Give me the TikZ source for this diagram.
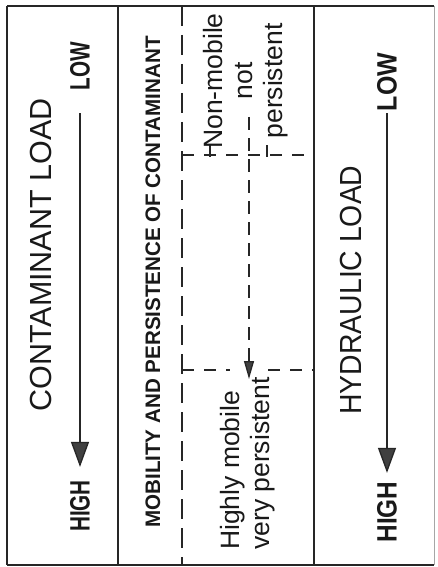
\documentclass[tikz,border=0pt]{standalone}
\usepackage{fontspec}
\setmainfont{Liberation Sans}
\usetikzlibrary{arrows.meta}
\begin{document}
\begin{tikzpicture}[x=1pt,y=-1pt,
  ink/.style={draw=black!85},
  frame/.style={ink, line width=2pt},
  divider/.style={ink, line width=1.4pt},
  dashdiv/.style={ink, line width=1.4pt, dash pattern=on 20pt off 9pt},
  dashrow/.style={ink, line width=1.3pt, dash pattern=on 12pt off 10pt},
  label/.style={rotate=90, inner sep=0pt, text=black!90},
  bigtitle/.style={label, font=\fontsize{30.5}{36}\selectfont},
  endlabel/.style={label, font=\bfseries\fontsize{28}{32}\selectfont},
  header/.style={label, font=\bfseries\fontsize{21}{25}\selectfont},
  body/.style={label, font=\fontsize{26.5}{30}\selectfont},
  loadarrow/.style={ink, line width=1.3pt,
    -{Triangle[length=25pt,width=18pt,fill=black!75]}},
  trendarrow/.style={ink, line width=1.3pt, dash pattern=on 13pt off 8pt,
    -{Triangle[length=18pt,width=10pt,fill=black!75]}},
]
\useasboundingbox (0,0) rectangle (437,567);
\fill[white] (0,0) rectangle (437,567);

% outer frame
\draw[frame] (7,6) -- (434,6);
\draw[frame] (7,565) -- (434,565);
\draw[frame] (7,6) -- (7,565);
\draw[draw=black!35, line width=0.6pt] (434,6) -- (434,565);

% column dividers
\draw[divider] (118,6) -- (118,565);
\draw[divider] (314,6) -- (314,565);
\draw[dashdiv] (182,6) -- (182,565);

% dashed rows bounding the two end labels
\draw[dashrow] (182,155) -- (314,155);
\draw[ink, line width=1.3pt] (210,145) -- (210,157);
\draw[ink, line width=1.3pt] (267,145) -- (267,157);
\draw[dashrow] (182,370) -- (230,370);
\draw[dashrow] (268,370) -- (314,370);

% contaminant load column
\node[bigtitle] (cload) at (41,255) {CONTAMINANT LOAD};
\node[endlabel] (lowC) at (80,66) {\scalebox{0.74}[1]{LOW}};
\node[endlabel] (highC) at (80,506) {\scalebox{0.74}[1]{HIGH}};
\draw[loadarrow, shorten <=23pt, shorten >=13pt] (lowC.west) -- (highC.east);

% mobility and persistence column
\node[header] (mob) at (153,282) {\scalebox{0.98}[1]{MOBILITY AND PERSISTENCE OF CONTAMINANT}};
\node[body, align=center] (nonmob) at (246,81) {Non-mobile\\not\\persistent};
\node[body, align=left, anchor=west] (himob) at (248,550) {Highly mobile\\very persistent};
\coordinate (dtop) at (249,117);
\coordinate (dtip) at (249,379);
\draw[trendarrow] (dtop) -- (dtip);

% hydraulic load column
\node[bigtitle] (hload) at (351,290) {\scalebox{0.93}[1]{HYDRAULIC LOAD}};
\node[endlabel] (lowH) at (387,82) {\scalebox{0.89}[1]{LOW}};
\node[endlabel] (highH) at (387,512) {\scalebox{0.87}[1]{HIGH}};
\draw[loadarrow, shorten <=2pt, shorten >=8.5pt] (lowH.west) -- (highH.east);
\end{tikzpicture}
\end{document}
